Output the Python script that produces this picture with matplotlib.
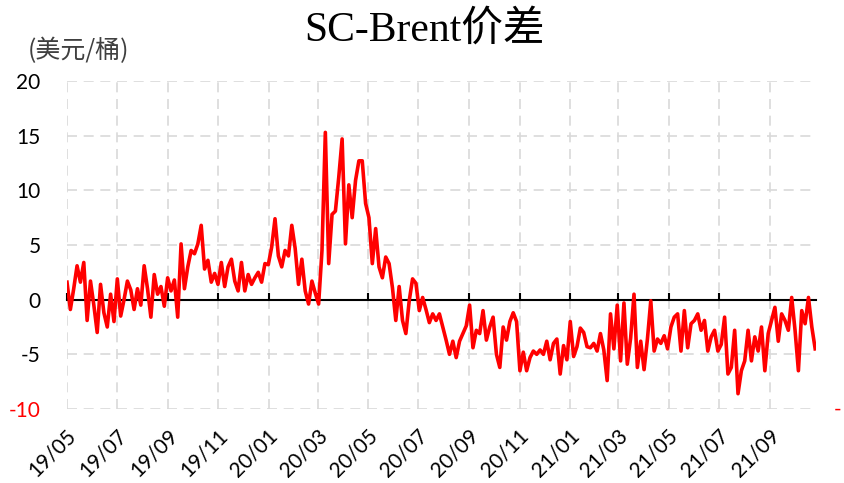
import pandas as pd
import matplotlib
matplotlib.use("Agg")
import matplotlib.pyplot as plt
import matplotlib.transforms as mtransforms

plt.rcParams["font.family"] = ["Lato", "Noto Sans CJK SC", "DejaVu Sans"]
plt.rcParams["axes.unicode_minus"] = False

# ===== データ =====
START_DATE = "2019-05-01"
END_DATE = "2021-10-26"

SPREAD_VALUES = [
    # 19/05 - 19/07
    1.6, -0.9, 1.0, 3.1, 1.6, 3.4, -1.9, 1.7, -0.5, -3.0, 1.4, -1.2, -2.5, 0.5, -2.0,
    # 19/07 - 19/09
    1.9, -1.5, 0.0, 1.7, 0.9, -0.9, 1.0, -0.5, 3.1, 1.0, -1.6, 2.3, 0.5, 1.2, -0.6,
    # 19/09 - 19/11
    2.0, 0.8, 1.8, -1.6, 5.1, 1.0, 3.0, 4.5, 4.2, 5.1, 6.8, 2.8, 3.6, 1.6, 2.4,
    # 19/11 - 20/01
    1.4, 3.4, 1.2, 3.0, 3.7, 1.7, 0.8, 3.4, 0.8, 2.3, 1.4, 2.0, 2.5, 1.6, 3.3,
    # 20/01 - 20/03
    3.2, 4.8, 7.4, 4.0, 3.0, 4.5, 4.0, 6.8, 4.7, 1.4, 3.7, 0.8, -0.4, 1.7, 0.6,
    # 20/03 - 20/05
    -0.4, 4.5, 15.3, 3.3, 7.8, 8.1, 11.2, 14.7, 5.1, 10.5, 7.5, 10.9, 12.7, 12.7, 8.8,
    # 20/05 - 20/07
    7.5, 3.3, 6.5, 3.0, 2.0, 3.9, 3.3, 1.1, -1.9, 1.2, -1.9, -3.1, -0.1, 1.9, 1.5,
    # 20/07 - 20/09
    -1.0, 0.2, -0.9, -2.1, -1.3, -1.9, -1.3, -2.5, -3.7, -5.0, -3.8, -5.3, -3.8, -3.1, -2.4,
    # 20/09 - 20/11
    -0.5, -4.4, -2.8, -3.1, -1.0, -3.7, -2.5, -1.6, -5.0, -6.2, -2.5, -3.7, -2.0, -1.2, -2.0,
    # 20/11 - 21/01
    -6.5, -4.8, -6.5, -5.3, -4.7, -5.0, -4.6, -5.0, -3.8, -5.5, -4.0, -3.6, -6.8, -4.2, -5.5,
    # 21/01 - 21/03
    -2.0, -5.2, -4.3, -2.6, -3.0, -4.3, -4.4, -4.0, -4.7, -3.1, -4.6, -7.4, -1.3, -4.5, -0.5,
    # 21/03 - 21/05
    -5.6, -0.3, -5.9, -3.5, 0.5, -6.2, -3.8, -6.4, -3.6, -0.1, -4.7, -3.6, -4.0, -3.3, -4.5,
    # 21/05 - 21/07
    -2.5, -1.6, -1.3, -4.7, -1.0, -4.4, -2.2, -1.9, -1.3, -2.8, -1.9, -4.7, -3.4, -2.8, -4.7,
    # 21/07 - 21/09
    -4.1, -1.6, -6.8, -6.2, -2.8, -8.6, -6.5, -5.6, -2.8, -5.6, -3.4, -4.7, -2.5, -6.5, -3.1,
    # 21/09 -
    -1.9, -0.7, -3.8, -1.3, -1.9, -2.8, 0.2, -2.8, -6.5, -1.0, -2.2, 0.2, -2.5, -4.5,
]

X_TICK_DATES = ["2019-05-01", "2019-07-01", "2019-09-01", "2019-11-01", "2020-01-01",
                "2020-03-01", "2020-05-01", "2020-07-01", "2020-09-01", "2020-11-01",
                "2021-01-01", "2021-03-01", "2021-05-01", "2021-07-01", "2021-09-01"]
X_TICK_LABELS = ["19/05", "19/07", "19/09", "19/11", "20/01", "20/03", "20/05", "20/07",
                 "20/09", "20/11", "21/01", "21/03", "21/05", "21/07", "21/09"]
Y_TICKS = [-10, -5, 0, 5, 10, 15, 20]

TITLE = "SC-Brent价差"
UNIT_LABEL = "(美元/桶)"


def main_process():
    dates = pd.date_range(START_DATE, END_DATE, periods=len(SPREAD_VALUES))
    tick_dates = pd.to_datetime(X_TICK_DATES)

    fig = plt.figure(figsize=(8.44, 4.83), dpi=100)
    W, H = 844, 483
    ax = fig.add_axes([67 / W, 1 - 409 / H, (816 - 67) / W, (409 - 81) / H])

    ax.plot(dates, SPREAD_VALUES, color="#FF0000", linewidth=2.6, zorder=3)

    ax.set_xlim(pd.Timestamp("2019-05-01"), pd.Timestamp("2021-10-27"))
    ax.set_ylim(-10, 20)
    ax.set_yticks(Y_TICKS)
    ax.set_yticklabels([str(v) for v in Y_TICKS])
    ax.set_xticks(tick_dates)
    ax.set_xticklabels(X_TICK_LABELS, rotation=45, ha="right", va="center",
                       rotation_mode="anchor")

    ax.grid(True, color="#D9D9D9", linestyle=(0, (6, 4)), linewidth=1.2)
    for s in ax.spines.values():
        s.set_visible(False)
    ax.tick_params(axis="y", length=0, pad=19, labelsize=15)
    ax.tick_params(axis="x", length=0, pad=15, labelsize=15)
    ax.get_yticklabels()[0].set_color("#FF0000")

    # ラベルを少し右下へずらす
    offset = mtransforms.ScaledTranslation(6 / 100, -3 / 100, fig.dpi_scale_trans)
    for lbl in ax.get_xticklabels():
        lbl.set_transform(lbl.get_transform() + offset)

    # 0 の位置の横軸（目盛りは上向き）
    sec = ax.secondary_xaxis(0, transform=ax.transData)
    sec.set_xticks(tick_dates)
    sec.tick_params(direction="in", length=5, width=1.5, color="black", labelbottom=False)
    sec.spines["bottom"].set_linewidth(1.5)
    sec.spines["bottom"].set_color("black")
    sec.set_zorder(2)

    fig.text(0.503, 1 - 30 / H, TITLE, fontsize=30, ha="center", va="center",
             family=["Liberation Serif", "Noto Sans CJK SC"])
    fig.text(28 / W, 1 - 51 / H, UNIT_LABEL, fontsize=18, ha="left", va="center",
             color="#404040", family=["Noto Sans CJK SC", "DejaVu Sans"])
    fig.text(838 / W, 1 - 410 / H, "-", fontsize=15, ha="center", va="center", color="#FF0000")

    fig.savefig("out.png", dpi=100)
    plt.close(fig)


if __name__ == "__main__":
    main_process()
